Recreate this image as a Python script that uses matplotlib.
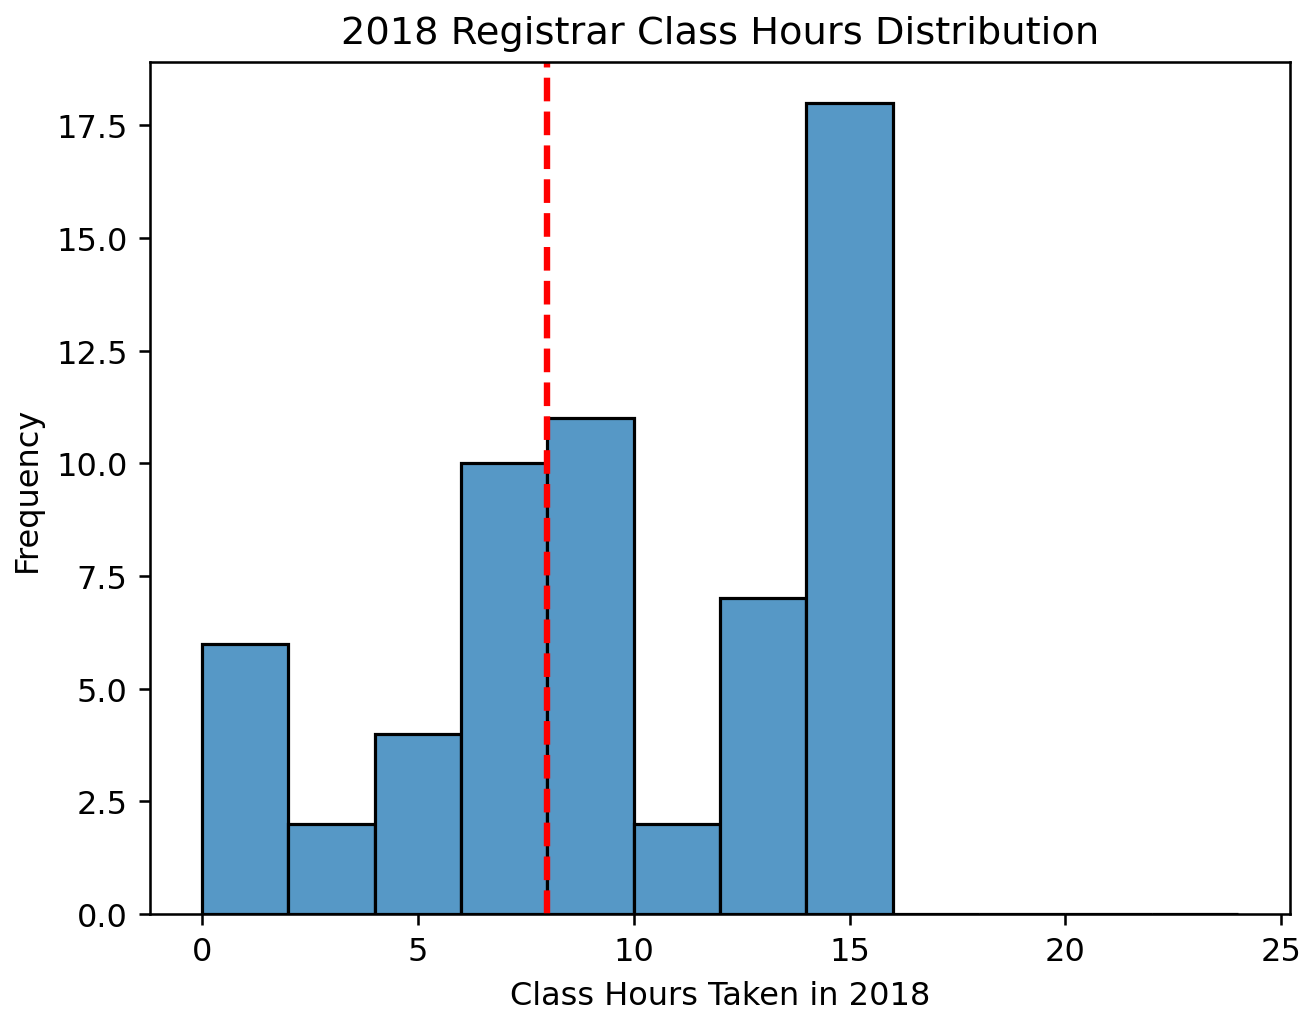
import matplotlib
matplotlib.use("Agg")
import matplotlib.pyplot as plt
import numpy as np

bin_edges = [0, 2, 4, 6, 8, 10, 12, 14, 16, 18, 20, 22, 24]
counts = [6, 2, 4, 10, 11, 2, 7, 18, 0, 0, 0, 0]
mean_value = 8.0

DPI = 230
fig = plt.figure(figsize=(1315 / DPI, 1015 / DPI), dpi=DPI)
ax = fig.add_axes([150/1315, 1-915/1015, (1290-150)/1315, (915-63)/1015])

lefts = np.array(bin_edges[:-1])
widths = np.diff(bin_edges)
ax.bar(lefts, counts, width=widths, align="edge", color="#5698c6",
       edgecolor="black", linewidth=1.0)

ax.axvline(mean_value, color="red", linestyle="--", linewidth=2)

ax.set_xlim(-1.2, 25.2)
ax.set_ylim(0, 18.9)
ax.set_xticks([0, 5, 10, 15, 20, 25])
ax.set_yticks([0, 2.5, 5, 7.5, 10, 12.5, 15, 17.5])
ax.set_yticklabels(["0.0", "2.5", "5.0", "7.5", "10.0", "12.5", "15.0", "17.5"])
ax.set_title("2018 Registrar Class Hours Distribution")
ax.set_xlabel("Class Hours Taken in 2018")
ax.set_ylabel("Frequency")

fig.savefig("out.png", dpi=DPI)
